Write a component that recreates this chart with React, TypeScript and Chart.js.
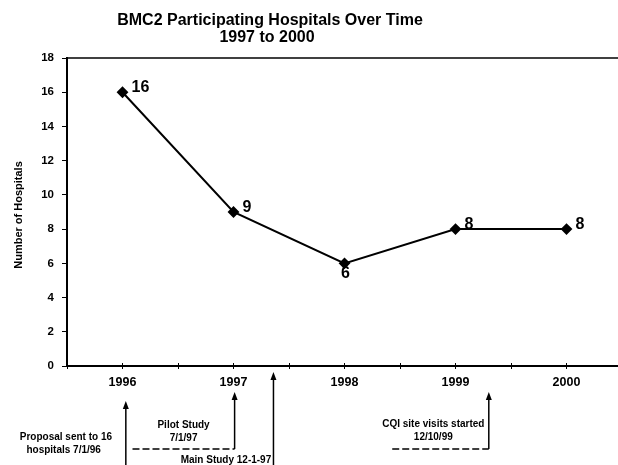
import React, { useEffect, useRef } from 'react';
import { Chart, registerables } from 'chart.js';

Chart.register(...registerables);

const years = [1996, 1997, 1998, 1999, 2000];
const hospitals = [16, 9, 6, 8, 8];
const labelSide = ['right', 'right', 'below', 'right', 'right'];
const titleLines = ['BMC2 Participating Hospitals Over Time', '1997 to 2000'];
const yAxisTitle = 'Number of Hospitals';
const yMin = 0;
const yMax = 18;
const yStep = 2;
const xStep = 0.5;

const FONT = '"Liberation Sans", Arial, Helvetica, sans-serif';

function drawArrow(ctx: CanvasRenderingContext2D, x: number, yTip: number, yEnd: number) {
  ctx.save();
  ctx.strokeStyle = '#000';
  ctx.fillStyle = '#000';
  ctx.lineWidth = 1.5;
  ctx.setLineDash([]);
  ctx.beginPath();
  ctx.moveTo(x, yTip + 6);
  ctx.lineTo(x, yEnd);
  ctx.stroke();
  ctx.beginPath();
  ctx.moveTo(x, yTip);
  ctx.lineTo(x - 3, yTip + 8);
  ctx.lineTo(x + 3, yTip + 8);
  ctx.closePath();
  ctx.fill();
  ctx.restore();
}

function dashed(ctx: CanvasRenderingContext2D, x1: number, x2: number, y: number) {
  ctx.save();
  ctx.strokeStyle = '#000';
  ctx.lineWidth = 1.5;
  ctx.setLineDash([7, 3]);
  ctx.beginPath();
  ctx.moveTo(x1, y);
  ctx.lineTo(x2, y);
  ctx.stroke();
  ctx.restore();
}

const overlay = {
  id: 'overlay',
  afterDraw(chart: any) {
    const ctx: CanvasRenderingContext2D = chart.ctx;
    const xs = chart.scales.x;
    const area = chart.chartArea;
    const X = (v: number) => xs.getPixelForValue(v);
    ctx.save();
    ctx.fillStyle = '#000';
    ctx.strokeStyle = '#000';

    // title
    ctx.font = `bold 16px ${FONT}`;
    ctx.textAlign = 'center';
    ctx.textBaseline = 'alphabetic';
    ctx.fillText(titleLines[0], 270, 25);
    ctx.fillText(titleLines[1], 267, 42);

    // y axis title
    ctx.save();
    ctx.translate(22, 215);
    ctx.rotate(-Math.PI / 2);
    ctx.font = `bold 11px ${FONT}`;
    ctx.textAlign = 'center';
    ctx.textBaseline = 'alphabetic';
    ctx.fillText(yAxisTitle, 0, 0);
    ctx.restore();

    // top frame line
    ctx.lineWidth = 1.5;
    ctx.beginPath();
    ctx.moveTo(area.left, area.top);
    ctx.lineTo(area.right, area.top);
    ctx.stroke();

    // x tick marks crossing the axis
    ctx.lineWidth = 1;
    xs.ticks.forEach((t: any) => {
      const px = Math.round(X(t.value)) + 0.5;
      ctx.beginPath();
      ctx.moveTo(px, area.bottom - 3);
      ctx.lineTo(px, area.bottom + 3);
      ctx.stroke();
    });

    // data labels
    const meta = chart.getDatasetMeta(0);
    ctx.font = `bold 16px ${FONT}`;
    meta.data.forEach((pt: any, i: number) => {
      const txt = String(hospitals[i]);
      if (labelSide[i] === 'below') {
        ctx.textAlign = 'center';
        ctx.fillText(txt, pt.x + 1, pt.y + 15);
      } else {
        ctx.textAlign = 'left';
        ctx.fillText(txt, pt.x + 9, pt.y);
      }
    });

    // annotations
    ctx.font = `bold 10px ${FONT}`;
    ctx.textAlign = 'center';
    ctx.fillText('Proposal sent to 16', X(1995.49), 440);
    ctx.fillText('hospitals 7/1/96', X(1995.47), 453);
    drawArrow(ctx, X(1996.03), 401, 465);

    ctx.fillText('Pilot Study', X(1996.55), 428);
    ctx.fillText('7/1/97', X(1996.55), 441);
    dashed(ctx, X(1996.09), X(1997.01), 449);
    drawArrow(ctx, X(1997.01), 392, 449);

    ctx.textAlign = 'right';
    ctx.fillText('Main Study 12-1-97', X(1997.34), 463);
    drawArrow(ctx, X(1997.36), 372, 465);

    ctx.textAlign = 'center';
    ctx.fillText('CQI site visits started', X(1998.8), 427);
    ctx.fillText('12/10/99', X(1998.8), 440);
    dashed(ctx, X(1998.43), X(1999.3), 449);
    drawArrow(ctx, X(1999.3), 392, 449);

    ctx.restore();
  },
};

export default function App() {
  const ref = useRef<HTMLCanvasElement>(null);
  useEffect(() => {
    if (!ref.current) return;
    Chart.defaults.font.family = FONT;
    const chart = new Chart(ref.current, {
      type: 'line',
      data: {
        datasets: [
          {
            data: years.map((y, i) => ({ x: y, y: hospitals[i] })),
            borderColor: '#000',
            backgroundColor: '#000',
            borderWidth: 2,
            pointStyle: 'rectRot',
            pointRadius: 4.5,
            pointBackgroundColor: '#000',
            pointBorderColor: '#000',
            tension: 0,
          },
        ],
      },
      options: {
        animation: false,
        responsive: true,
        maintainAspectRatio: false,
        layout: { autoPadding: false, padding: { top: 58, right: 0, left: 0, bottom: 0 } },
        plugins: { legend: { display: false }, title: { display: false }, tooltip: { enabled: false } },
        scales: {
          x: {
            type: 'linear',
            min: 1995.5,
            max: 2000.464,
            afterFit: (s: any) => {
              s.height = 99;
              s.paddingLeft = 0;
              s.paddingRight = 0;
            },
            ticks: {
              stepSize: xStep,
              includeBounds: false,
              autoSkip: false,
              maxRotation: 0,
              padding: 9,
              color: '#000',
              font: { size: 12.5, weight: 'bold', family: FONT },
              callback: (v: any) => (Number.isInteger(v) ? String(v) : ''),
            },
            grid: { display: true, drawOnChartArea: false, drawTicks: false },
            border: { display: true, color: '#000', width: 2 },
          },
          y: {
            min: yMin,
            max: yMax,
            afterFit: (s: any) => {
              s.width = 67;
              s.paddingTop = 0;
              s.paddingBottom = 0;
            },
            ticks: {
              stepSize: yStep,
              padding: 8,
              color: '#000',
              font: { size: 11.5, weight: 'bold', family: FONT },
            },
            grid: { display: true, drawOnChartArea: false, drawTicks: true, tickLength: 5, color: '#000' },
            border: { display: true, color: '#000', width: 2 },
          },
        },
      },
      plugins: [overlay],
    });
    return () => chart.destroy();
  }, []);
  return (
    <div style={{ position: 'fixed', left: 0, top: 0, width: 618, height: 465, background: '#fff' }}>
      <canvas ref={ref} />
    </div>
  );
}
